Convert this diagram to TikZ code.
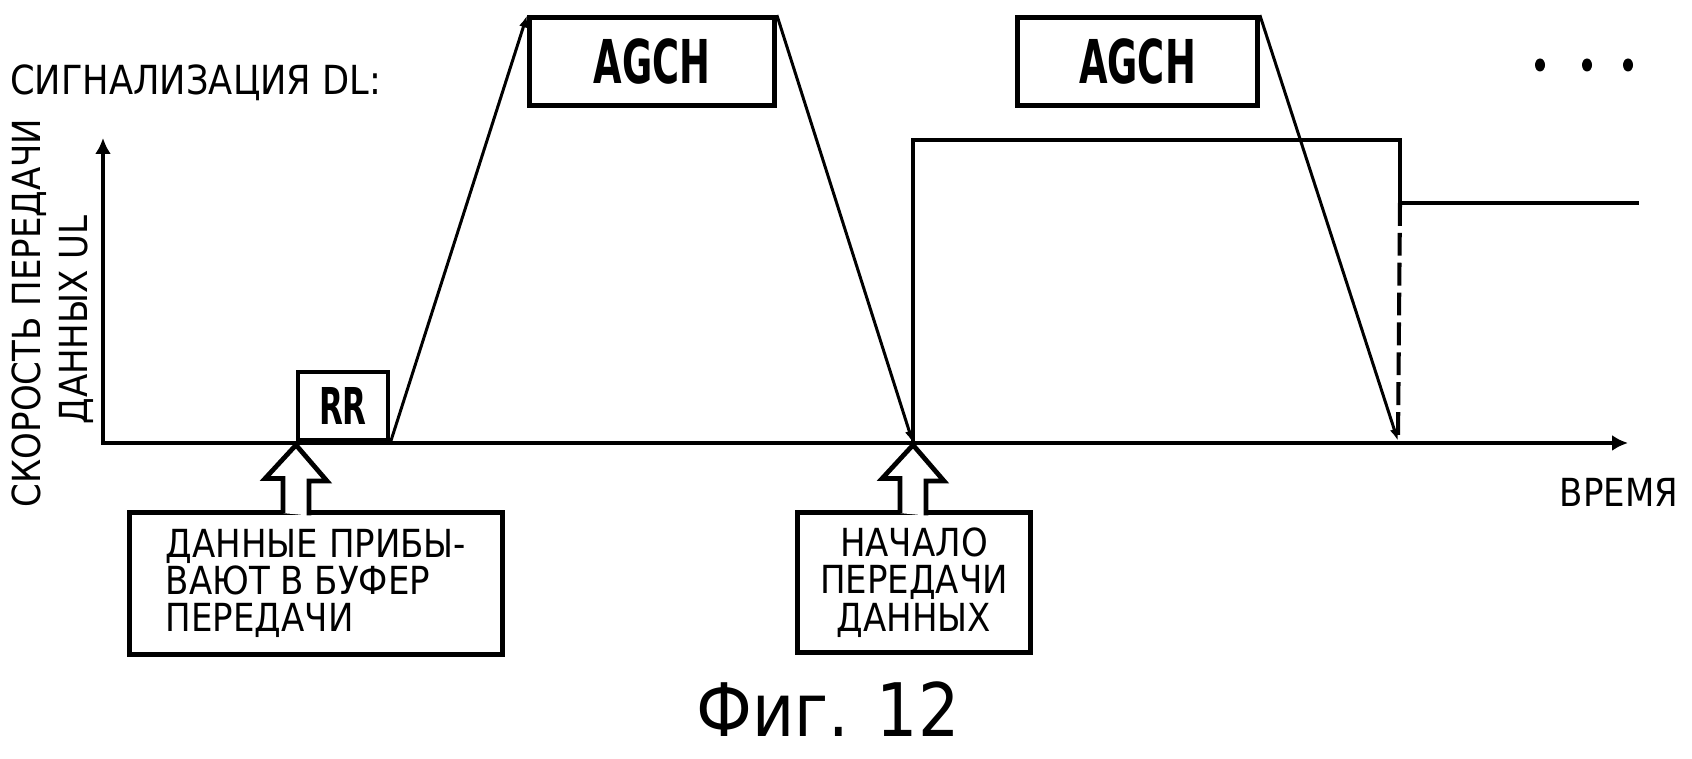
\documentclass[tikz,border=0pt]{standalone}
\usepackage{fontspec}
\setmainfont{DejaVu Sans}[FakeStretch=0.88]
\newfontfamily\tagfont{DejaVu Sans}[FakeStretch=0.61]
\usetikzlibrary{arrows.meta}

\begin{document}
\begin{tikzpicture}[x=0.2mm, y=0.2mm,
  lbl/.style={font=\fontsize{22pt}{21.3pt}\selectfont, inner sep=0pt},
  msg/.style={draw, line width=2.7pt, inner sep=0pt, font=\tagfont\bfseries},
  note/.style={draw, line width=2.7pt, inner sep=0pt, font=\fontsize{22pt}{21.3pt}\selectfont},
  blk/.style={draw, fill=white, line width=2.7pt},
  conn/.style={line width=1.7pt, -{Latex[length=7pt,width=5pt]}},
  rate/.style={line width=2.3pt},
  ]
  \useasboundingbox (0,0) rectangle (1692,759);
  \coordinate (Y) at (103,621);
  \coordinate (T) at (1628,316);
  \coordinate (S) at (913,316);
  \coordinate (E) at (1398,318);
  \coordinate (rtop) at (1400,619);
  \coordinate (down) at (1400,556);
  \coordinate (rest) at (1639,556);
  \coordinate (tip1) at (296,314);
  \coordinate (tip2) at (913,314);
  \draw[line width=2.7pt, {Latex[length=9pt,width=9pt]}-{Latex[length=9pt,width=9pt]}] (Y) |- (T);
  \node[lbl, rotate=90, anchor=base] (yl1) at (40,446) {СКОРОСТЬ ПЕРЕДАЧИ};
  \node[lbl, rotate=90, anchor=base] (yl2) at (88,439) {ДАННЫХ UL};
  \node[lbl, font=\fontsize{22.8pt}{22pt}\selectfont, anchor=base west] (dl) at (10,664) {СИГНАЛИЗАЦИЯ DL:};
  \node[lbl, anchor=base] (time) at (1619,252) {ВРЕМЯ};
  \node[msg, font=\tagfont\bfseries\fontsize{28.9pt}{30pt}\selectfont, minimum width=18mm, minimum height=13.7mm, anchor=south west] (rr) at (295.5,316) {RR};
  \node[msg, font=\tagfont\bfseries\fontsize{34.4pt}{36pt}\selectfont, minimum width=49mm, minimum height=17.6mm] (agch1) at (652,697.5) {AGCH};
  \node[msg, font=\tagfont\bfseries\fontsize{34.4pt}{36pt}\selectfont, minimum width=48mm, minimum height=17.6mm] (agch2) at (1137.5,697.5) {AGCH};
  \foreach \x in {1540,1587,1628}
    \fill (\x,694) ellipse [x radius=5, y radius=6.5];
  \draw[rate] (S) |- (rtop) -- (down) -- (rest);
  \draw[rate, dash pattern=on 13pt off 4pt] (down) -- (E);
  \draw[conn] (rr.south east) -- (agch1.north west);
  \draw[conn] (agch1.north east) -- (S);
  \draw[conn] (agch2.north east) -- (E);
  \node[note, align=left, minimum width=74.6mm, minimum height=28.4mm] (arrive) at (316,175.5)
    {ДАННЫЕ ПРИБЫ-\\ВАЮТ В БУФЕР\\ПЕРЕДАЧИ};
  \node[note, align=center, minimum width=46.6mm, minimum height=28mm] (start) at (914,176.5)
    {НАЧАЛО\\ПЕРЕДАЧИ\\ДАННЫХ};
  \draw[blk] (tip1 |- arrive.north) ++(-13,-3) -- ++(0,34.5) -- ++(-18,0) -- (tip1) -- ++(31,-36) -- ++(-18,0) -- ++(0,-34.5);
  \draw[blk] (tip2 |- start.north) ++(-13,-3) -- ++(0,34.5) -- ++(-18,0) -- (tip2) -- ++(31,-36) -- ++(-18,0) -- ++(0,-34.5);
  \node[font=\fontsize{42pt}{46pt}\selectfont, anchor=base, inner sep=0pt] (fig) at (828,22) {Фиг. 12};
\end{tikzpicture}
\end{document}
